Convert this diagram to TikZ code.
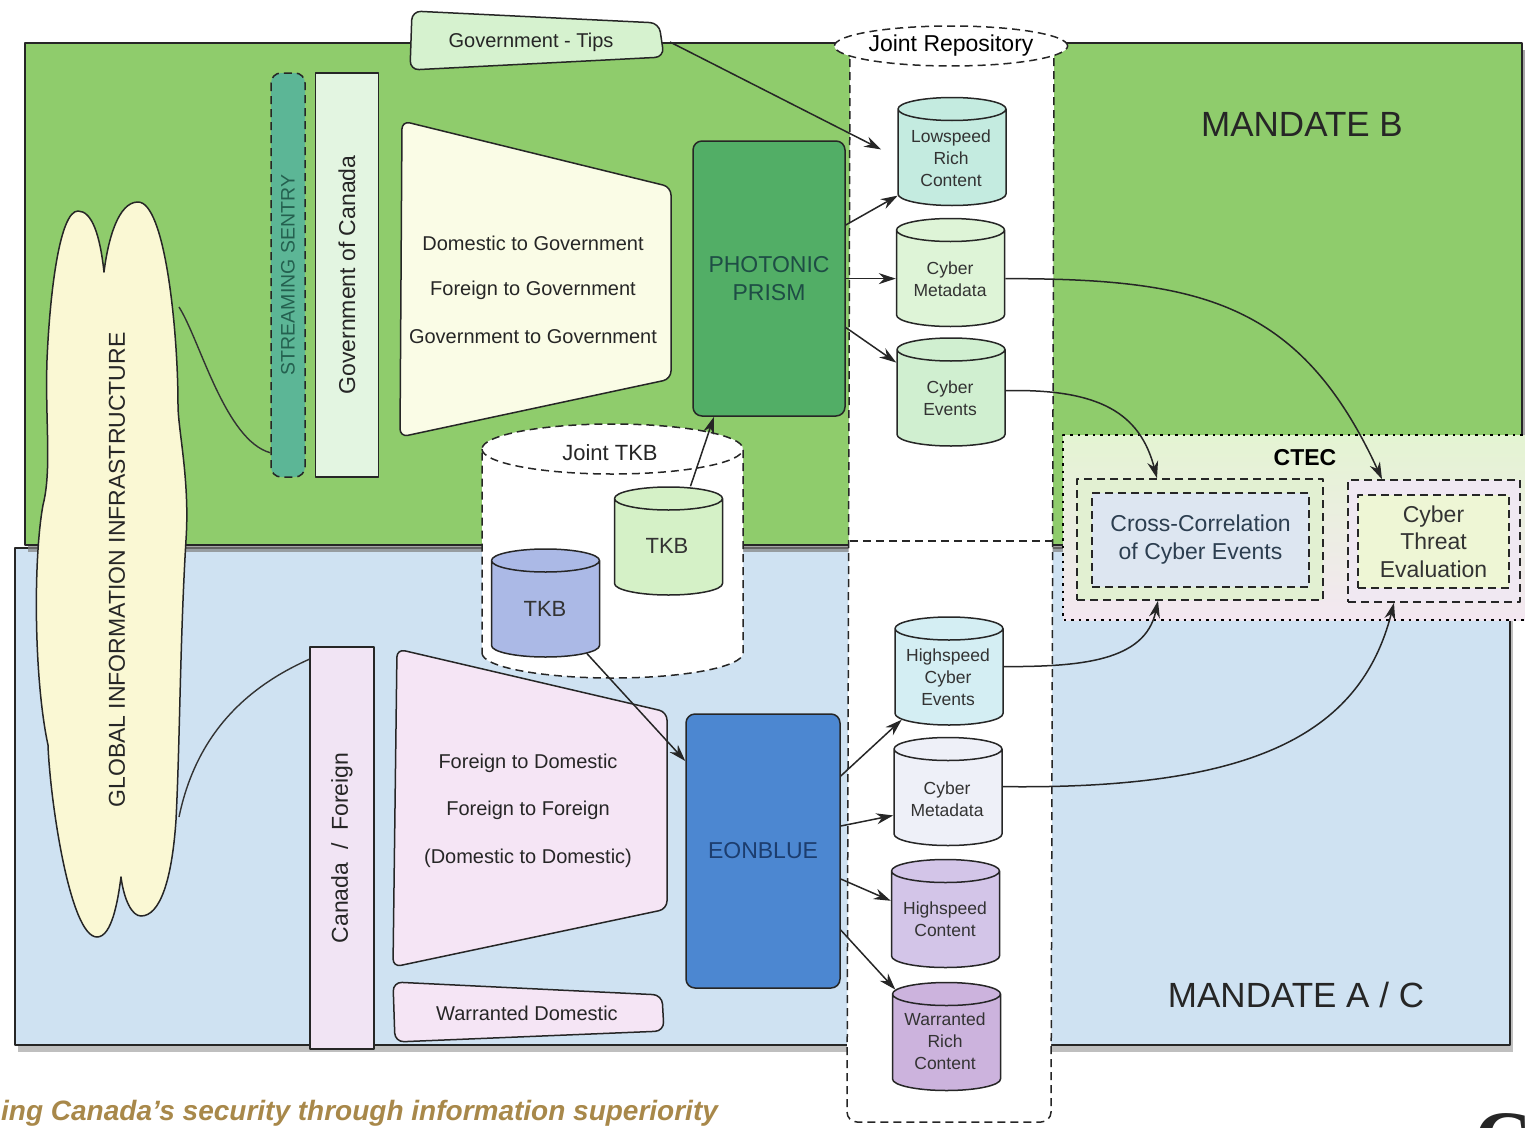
\documentclass[tikz,border=0pt]{standalone}
\usepackage{fontspec}
\setmainfont{Liberation Sans}
\newfontfamily\serifC{Liberation Serif}
\usetikzlibrary{shapes.geometric,arrows.meta,shadows}

\definecolor{mandB}{HTML}{8FCC6C}
\definecolor{mandAC}{HTML}{CFE2F2}
\definecolor{sentryfill}{HTML}{5CB696}
\definecolor{sentrytext}{HTML}{24604F}
\definecolor{govfill}{HTML}{E3F5E1}
\definecolor{trapG}{HTML}{FAFCE6}
\definecolor{trapP}{HTML}{F5E5F5}
\definecolor{tipsfill}{HTML}{D6F2CF}
\definecolor{cloudfill}{HTML}{FAF8D4}
\definecolor{canfill}{HTML}{F1E4F4}
\definecolor{prismfill}{HTML}{52AE66}
\definecolor{prismtext}{HTML}{1E4D45}
\definecolor{eonfill}{HTML}{4C87D1}
\definecolor{eontext}{HTML}{1C3D6E}
\definecolor{lrcfill}{HTML}{C4EBE0}
\definecolor{cmdAfill}{HTML}{DEF4D7}
\definecolor{cevfill}{HTML}{D0EFD0}
\definecolor{hcefill}{HTML}{D4EEF3}
\definecolor{cmdBfill}{HTML}{EEF0F8}
\definecolor{hscfill}{HTML}{D3C5E8}
\definecolor{wrcfill}{HTML}{CCB3DD}
\definecolor{tkbgfill}{HTML}{D5F1C7}
\definecolor{tkbbfill}{HTML}{ABB9E6}
\definecolor{ctecTop}{HTML}{E4F4D2}
\definecolor{ctecBot}{HTML}{F3E7F1}
\definecolor{xcorOut}{HTML}{E2F0D2}
\definecolor{xcorIn}{HTML}{DDE6F1}
\definecolor{cteOut}{HTML}{F0E8F2}
\definecolor{cteIn}{HTML}{EEF6D5}
\definecolor{slate}{HTML}{2C3E50}
\definecolor{capcol}{HTML}{A8884A}

\tikzset{
  outline/.style={draw=black!85, line width=1.5pt},
  dashedge/.style={outline, dash pattern=on 8pt off 5pt},
  repo/.style={cylinder, shape border rotate=90, aspect=0.23, outline, inner sep=0pt,
               text width=100pt, minimum width=108pt, minimum height=108pt, anchor=shape center},
  storetext/.style={align=center, text=black!80, font=\fontsize{17.5}{22}\selectfont},
  feed/.style={line width=1.5pt, draw=black!85, ->},
  wire/.style={line width=1.4pt, draw=black!80},
  flowtext/.style={text=black!85, font=\fontsize{20}{24}\selectfont},
  bigtext/.style={text=black!85, font=\fontsize{23}{28}\selectfont},
}

\begin{document}
\begin{tikzpicture}[x=1pt, y=-1pt, >={Stealth[length=17pt,width=11pt]}, line join=round]
\useasboundingbox (0,0) rectangle (1525,1127);
\clip (0,0) rectangle (1525,1127);

% mandate areas
\draw[outline, line width=1.8pt, fill=mandAC,
      drop shadow={shadow xshift=3pt, shadow yshift=-7pt, opacity=.5}] (15,548) rectangle (1510,1045);
\draw[outline, line width=1.8pt, fill=mandB,
      drop shadow={shadow xshift=3pt, shadow yshift=-7pt, opacity=.7}] (25,43) rectangle (1522,545);
\node[font=\fontsize{35}{40}\selectfont, text=black!85] (mandateB) at (1302,124) {MANDATE B};
\node[font=\fontsize{35}{40}\selectfont, text=black!85] (mandateAC) at (1296,995) {MANDATE A / C};

% joint repository
\draw[dashedge, fill=white, rounded corners=10pt] (850,46) -- (847,1122) -- (1051,1122) -- (1054,46);
\draw[dashedge] (850,541) -- (1053,541);
\node[ellipse, dashedge, fill=white, minimum width=196pt, minimum height=40pt, inner sep=0pt,
      font=\fontsize{23}{24}\selectfont] (jrep) at (951,46) {Joint Repository};

% CTEC
\shade[top color=ctecTop, bottom color=ctecBot] (1063,435) rectangle (1530,620);
\draw[line width=1.5pt, dash pattern=on 2.5pt off 5pt] (1530,435) -- (1063,435) -- (1063,620) -- (1530,620);
\node[font=\bfseries\fontsize{23}{26}\selectfont] (ctec) at (1305,458) {CTEC};
\node[dashedge, fill=xcorOut, minimum width=246pt, minimum height=121pt] (xcorO) at (1200,539.5) {};
\node[dashedge, fill=xcorIn, minimum width=217pt, minimum height=94pt, align=center, text=slate,
      font=\fontsize{23}{28}\selectfont] (xcor) at (1200.5,540) {Cross-Correlation\\of Cyber Events};
\node[dashedge, fill=cteOut, minimum width=172pt, minimum height=122pt] (cteO) at (1434,541) {};
\node[dashedge, fill=cteIn, minimum width=151pt, minimum height=93pt, align=center, text=black!80,
      font=\fontsize{23}{27.5}\selectfont] (cte) at (1433.5,541.5) {Cyber\\Threat\\Evaluation};

% global infrastructure cloud
\draw[outline, fill=cloudfill] (104,272) .. controls (100,235) and (92,211) .. (78,211)
  .. controls (60,211) and (50,290) .. (47,360)
  .. controls (45,420) and (52,470) .. (43,505)
  .. controls (33,560) and (34,680) .. (48,745)
  .. controls (50,800) and (70,937) .. (97,937)
  .. controls (112,937) and (118,900) .. (121,877)
  .. controls (124,900) and (132,916) .. (141,916)
  .. controls (160,916) and (172,880) .. (176,820)
  .. controls (180,740) and (180,640) .. (186,540)
  .. controls (190,480) and (178,430) .. (178,405)
  .. controls (178,330) and (165,202) .. (138,202)
  .. controls (118,202) and (108,240) .. (104,272) -- cycle;
\node[rotate=90, bigtext] (gii) at (117,570) {GLOBAL INFORMATION INFRASTRUCTURE};
\coordinate (giiA) at (179,307);
\coordinate (giiB) at (179,817);

% government side
\node[dashedge, fill=sentryfill, rounded corners=10pt, rotate=90, minimum width=404pt, minimum height=34pt,
      inner sep=0pt, text=sentrytext, font=\fontsize{19.5}{20}\selectfont] (sentry) at (288,275) {STREAMING SENTRY};
\node[outline, fill=govfill, rotate=90, minimum width=404pt, minimum height=63pt, bigtext] (gov) at (347,275) {Government of Canada};
\draw[outline, fill=tipsfill, rounded corners=9pt] (412,11) -- (659,23) -- (664,57) -- (410,70) -- cycle;
\node[text=black!85, font=\fontsize{20}{22}\selectfont] (tips) at (531,42) {Government - Tips};
\draw[outline, fill=trapG, rounded corners=8pt] (402,121) -- (671,187) -- (671,379) -- (400,437) -- cycle;
\node[flowtext] (d2g) at (533,243) {Domestic to Government};
\node[flowtext] (f2g) at (533,290) {Foreign to Government};
\node[flowtext] (g2g) at (533,337) {Government to Government};
\node[outline, fill=prismfill, rounded corners=9pt, minimum width=152pt, minimum height=275pt, align=center,
      text=prismtext, font=\fontsize{23}{28}\selectfont] (prism) at (769,278.5) {PHOTONIC\\PRISM};

% canada / foreign side
\node[outline, fill=canfill, rotate=90, minimum width=402pt, minimum height=64pt, bigtext] (canada) at (342,848) {Canada \ / \ Foreign};
\draw[outline, fill=trapP, rounded corners=8pt] (397,649) -- (667,712) -- (667,909) -- (393,967) -- cycle;
\node[flowtext] (f2d) at (528,763) {Foreign to Domestic};
\node[flowtext] (f2f) at (528,810) {Foreign to Foreign};
\node[flowtext] (d2d) at (528,858) {(Domestic to Domestic)};
\draw[outline, fill=trapP, rounded corners=9pt] (393,982) -- (662,995) -- (664,1031) -- (395,1042) -- cycle;
\node[flowtext] (wdom) at (527,1013) {Warranted Domestic};
\node[outline, fill=eonfill, rounded corners=9pt, minimum width=154pt, minimum height=274pt,
      text=eontext, font=\fontsize{23}{28}\selectfont] (eon) at (763,851) {EONBLUE};

% joint TKB
\node[repo, dashedge, fill=white, aspect=0.2, text width=250pt, minimum width=261pt, minimum height=254pt] (jtkb) at (612.5,551) {};
\node[text=black!85, font=\fontsize{22}{24}\selectfont] (jtkbT) at (610,453) {Joint TKB};
\node[repo, fill=tkbgfill] (tkbg) at (668.5,541) {};
\node[storetext, font=\fontsize{22}{24}\selectfont] (tkbgT) at (667,546) {TKB};
\node[repo, fill=tkbbfill] (tkbb) at (545.5,603) {};
\node[storetext, font=\fontsize{22}{24}\selectfont] (tkbbT) at (545,609) {TKB};

% repository stores
\node[repo, fill=lrcfill] (lrc) at (952,151.5) {};
\node[storetext] (lrcT) at (951,158) {Lowspeed\\Rich\\Content};
\node[repo, fill=cmdAfill] (cmdA) at (950.5,272.5) {};
\node[storetext] (cmdAT) at (950,279) {Cyber\\Metadata};
\node[repo, fill=cevfill] (cev) at (951,392) {};
\node[storetext] (cevT) at (950,398) {Cyber\\Events};
\node[repo, fill=hcefill] (hce) at (949,671) {};
\node[storetext] (hceT) at (948,677) {Highspeed\\Cyber\\Events};
\node[repo, fill=cmdBfill] (cmdB) at (948,791.5) {};
\node[storetext] (cmdBT) at (947,799) {Cyber\\Metadata};
\node[repo, fill=hscfill] (hsc) at (945.5,913.5) {};
\node[storetext] (hscT) at (945,919) {Highspeed\\Content};
\node[repo, fill=wrcfill] (wrc) at (946.5,1036.5) {};
\node[storetext] (wrcT) at (945,1041) {Warranted\\Rich\\Content};

% links
\draw[wire] (giiA) .. controls (200,340) and (225,440) .. ([yshift=25pt]sentry.north west);
\draw[wire] (giiB) .. controls (195,740) and (240,690) .. ([yshift=-13pt]canada.north east);
\draw[feed, shorten >=18pt] ([xshift=53pt]tips.east) -- (lrc.west);
\draw[feed] ([yshift=53.5pt]prism.east) -- (lrc.215);
\draw[feed] (prism.east |- cmdA.west) -- (cmdA.west);
\draw[feed] ([yshift=-49pt]prism.east) -- (cev.147);
\draw[feed] ([xshift=22pt]tkbg.north) -- ([xshift=-55pt]prism.south);
\draw[feed] (tkbb.-47) -- ([yshift=90pt]eon.west);
\draw[feed] ([yshift=75pt]eon.east) -- (hce.222);
\draw[feed] ([yshift=25pt]eon.east) -- (cmdB.198);
\draw[feed] ([yshift=-28pt]eon.east) -- (hsc.161);
\draw[feed] ([yshift=-79pt]eon.east) -- (wrc.134);
\draw[feed] (cmdA.east) .. controls +(194,0) and +(-82,-178) .. ([xshift=-52pt]cteO.north);
\draw[feed] ([yshift=7.5pt]cev.east) .. controls +(94,-2) and +(-17,-65) .. ([xshift=-43pt]xcorO.north);
\draw[feed] ([yshift=10.5pt]hce.east) .. controls +(76,0) and +(-13,61) .. ([xshift=-42pt]xcorO.south);
\draw[feed] ([yshift=11pt]cmdB.east) .. controls +(246,3) and +(-34,134) .. ([xshift=-40pt]cteO.south);

% footer
\node[anchor=base west, inner sep=0pt, text=capcol, font=\bfseries\itshape\fontsize{28}{30}\selectfont] (motto) at (1,1120) {ing Canada’s security through information superiority};
\node[anchor=base west, inner sep=0pt, text=black!85, font=\serifC\bfseries\fontsize{80}{80}\selectfont] (logoC) at (1474,1166) {C};
\end{tikzpicture}
\end{document}
